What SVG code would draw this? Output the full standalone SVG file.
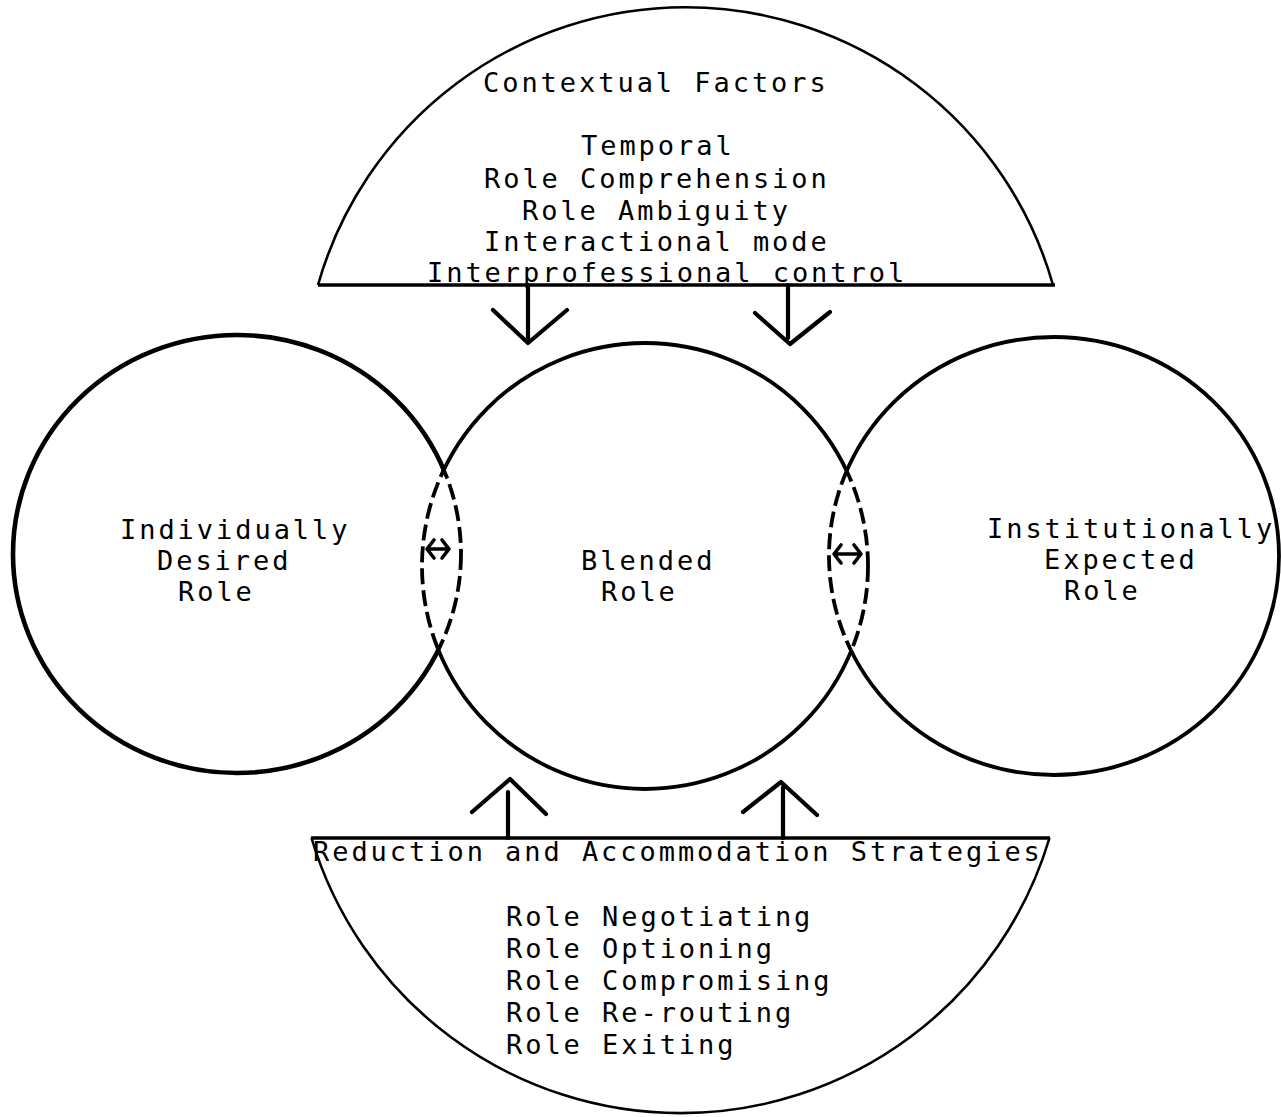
<svg xmlns="http://www.w3.org/2000/svg" width="1281" height="1117" viewBox="0 0 1281 1117">
  <style>
    .t { font-family: "DejaVu Sans Mono", "Liberation Mono", monospace; font-size: 27px; letter-spacing: 2.95px; fill: #000; }
    .ring { fill: none; stroke: #000; stroke-width: 3.8; }
    .ring-l { fill: none; stroke: #000; stroke-width: 4.6; }
    .dash { fill: none; stroke: #000; stroke-width: 3.8; stroke-dasharray: 16 6; }
    .seg { fill: none; stroke: #000; stroke-width: 2.6; }
    .chord { fill: none; stroke: #000; stroke-width: 3.4; }
    .arrow { fill: none; stroke: #000; stroke-width: 4.2; stroke-linecap: round; stroke-linejoin: round; }
    .swap { fill: none; stroke: #000; stroke-width: 3.6; stroke-linecap: round; stroke-linejoin: round; }
  </style>
  <defs>
    <!-- inside / outside of the centre circle -->
    <clipPath id="inMid"><ellipse cx="645" cy="566" rx="223" ry="223"/></clipPath>
    <clipPath id="outMid"><path clip-rule="evenodd" d="M0 0H1281V1117H0Z M422 566a223 223 0 1 0 446 0a223 223 0 1 0 -446 0Z"/></clipPath>
    <!-- inside / outside of the two side circles -->
    <clipPath id="inSides">
      <ellipse cx="237" cy="554" rx="224" ry="219"/>
      <ellipse cx="1054" cy="556" rx="225" ry="219"/>
    </clipPath>
    <clipPath id="outSides"><path clip-rule="evenodd" d="M0 0H1281V1117H0Z M13 554a224 219 0 1 0 448 0a224 219 0 1 0 -448 0Z M829 556a225 219 0 1 0 450 0a225 219 0 1 0 -450 0Z"/></clipPath>
  </defs>

  <!-- top segment: contextual factors -->
  <g id="contextual-factors">
    <path class="seg" d="M318 285A382 382 0 0 1 1053 285"/>
    <path class="chord" d="M318 285H1055"/>
    <text class="t" x="483" y="92">Contextual Factors</text>
    <text class="t" x="581" y="155">Temporal</text>
    <text class="t" x="484" y="188">Role Comprehension</text>
    <text class="t" x="522" y="220">Role Ambiguity</text>
    <text class="t" x="484" y="251">Interactional mode</text>
    <text class="t" x="427" y="282">Interprofessional control</text>
  </g>

  <!-- left circle -->
  <g id="individually-desired-role">
    <ellipse class="ring-l" cx="237" cy="554" rx="224" ry="219" clip-path="url(#outMid)"/>
    <ellipse class="dash" cx="237" cy="554" rx="224" ry="219" clip-path="url(#inMid)"/>
    <text class="t" x="120" y="539">Individually</text>
    <text class="t" x="157" y="570">Desired</text>
    <text class="t" x="178" y="601">Role</text>
  </g>

  <!-- centre circle -->
  <g id="blended-role">
    <ellipse class="ring" cx="645" cy="566" rx="223" ry="223" clip-path="url(#outSides)"/>
    <ellipse class="dash" cx="645" cy="566" rx="223" ry="223" clip-path="url(#inSides)"/>
    <text class="t" x="581" y="570">Blended</text>
    <text class="t" x="601" y="601">Role</text>
  </g>

  <!-- right circle -->
  <g id="institutionally-expected-role">
    <ellipse class="ring" cx="1054" cy="556" rx="225" ry="219" clip-path="url(#outMid)"/>
    <ellipse class="dash" cx="1054" cy="556" rx="225" ry="219" clip-path="url(#inMid)"/>
    <text class="t" x="987" y="538">Institutionally</text>
    <text class="t" x="1044" y="569">Expected</text>
    <text class="t" x="1064" y="600">Role</text>
  </g>

  <!-- bottom segment: strategies -->
  <g id="reduction-strategies">
    <path class="seg" d="M311.5 838A385 385 0 0 0 1049.5 838"/>
    <path class="chord" d="M311 838H1050"/>
    <text class="t" x="313" y="861">Reduction and Accommodation Strategies</text>
    <text class="t" x="506" y="926">Role Negotiating</text>
    <text class="t" x="506" y="958">Role Optioning</text>
    <text class="t" x="506" y="990">Role Compromising</text>
    <text class="t" x="506" y="1022">Role Re-routing</text>
    <text class="t" x="506" y="1054">Role Exiting</text>
  </g>

  <!-- connectors -->
  <g id="connectors">
    <path class="arrow" d="M528 285V338M493 310L528 343L567 310"/>
    <path class="arrow" d="M788 285V338M755 313L790 344L830 312"/>
    <path class="arrow" d="M508 838V792M472 812L510 779L546 814"/>
    <path class="arrow" d="M783 838V787M743 812L781 782L817 815"/>
    <path class="swap" d="M428 549H448M434 540L427 549L434 558M442 540L449 549L442 558"/>
    <path class="swap" d="M835 554H860M841 545L834 554L841 563M854 545L861 554L854 563"/>
  </g>
</svg>
